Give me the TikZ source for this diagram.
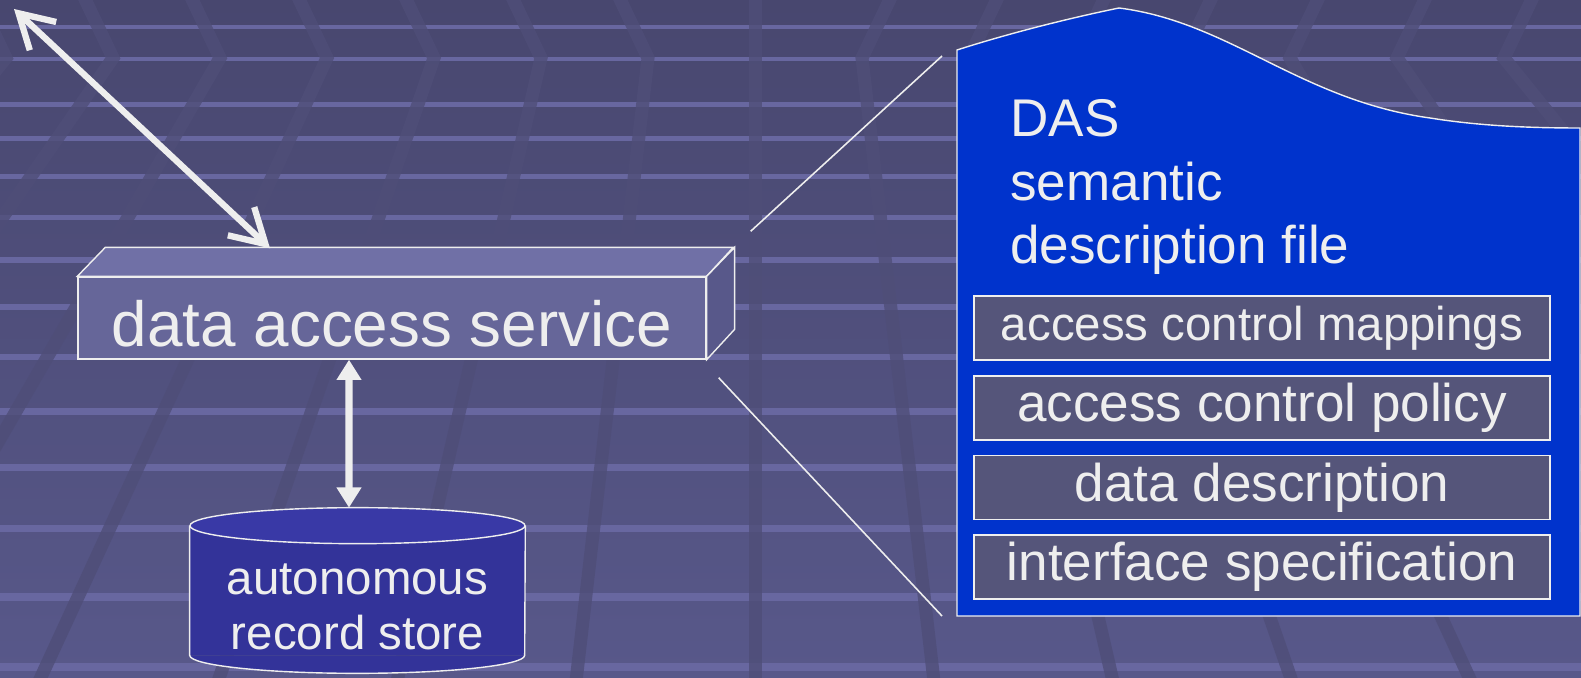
\documentclass[tikz,border=0pt]{standalone}
\usepackage{fontspec}
\setmainfont{Liberation Sans}
\usepackage{xcolor}
\usepackage{tikz}
\usetikzlibrary{arrows.meta}

\definecolor{bgtop}{HTML}{48476F}
\definecolor{bgbot}{HTML}{58588A}
\definecolor{stripe}{HTML}{6867A0}
\definecolor{band}{HTML}{4F4E78}
\definecolor{ink}{HTML}{EEEEEE}
\definecolor{dasfront}{HTML}{666699}
\definecolor{dastop}{HTML}{7070A6}
\definecolor{dasside}{HTML}{58588A}
\definecolor{storebody}{HTML}{333399}
\definecolor{storetop}{HTML}{3939A6}
\definecolor{fileblue}{HTML}{0033CC}
\definecolor{partfill}{HTML}{55557A}

\tikzset{
  outline/.style={draw=ink, line width=0.8pt},
  dasbox/.style={outline, fill=dasfront, minimum width=12.56cm, minimum height=1.64cm,
    inner sep=0pt, text=ink, text height=31.9pt, text depth=0pt, font=\fontsize{36.3}{40}\selectfont},
  storeshape/.style={fill=storebody, minimum width=6.7cm, minimum height=2.58cm, inner sep=0pt},
  storetext/.style={text=ink, inner sep=0pt, align=center, font=\fontsize{27}{31.3}\selectfont},
  titletext/.style={text=ink, inner sep=0pt, align=left, font=\fontsize{30.2}{36.1}\selectfont},
  partbox/.style={outline, fill=partfill, minimum width=11.52cm, minimum height=1.28cm,
    inner sep=0pt, text=ink, font=\fontsize{30.2}{36}\selectfont},
  zoomline/.style={draw=ink, line width=0.9pt},
  webarrow/.style={draw=ink, line width=3.6pt,
    {Straight Barb[length=19pt,width=22pt]}-{Straight Barb[length=19pt,width=22pt]}},
  storearrow/.style={draw=ink, line width=4pt,
    {Triangle[length=11.5pt,width=13.5pt]}-{Triangle[length=11.5pt,width=13.5pt]}},
  stripeline/.style={fill=stripe},
  bandline/.style={draw=band, opacity=0.8, line width=7.4pt},
}

\begin{document}
\begin{tikzpicture}[x=0.02cm, y=-0.02cm]
    % background
    \useasboundingbox (0,0) rectangle (1581,678);
    \shade[top color=bgtop, bottom color=bgbot] (0,0) rectangle (1581,678);
    \begin{scope}
        \clip (0,0) rectangle (1581,678);
        \foreach \y/\h in {27/4,59/4,105/5,139/5,177/5,218/5,260/6,307/6,357/6,412/7,467/7,528/7,597/8,667/8}
            \fill[stripeline] (0,\y-\h/2) rectangle (1581,\y+\h/2);
        \foreach \k in {-8,...,8}
            \draw[bandline] ({755+107*\k+30*sign(\k)},-5) -- ({755+107*\k},58) -- ({755+180*\k},690);
    \end{scope}

    % data access service
    \node[dasbox] (das) at (392,318) {data access service};
    \draw[outline, fill=dastop] (das.north west) -- ++(28,-29) -- ++(628,0) -- (das.north east) -- cycle;
    \draw[outline, fill=dasside] (das.north east) -- ++(28,-29) -- ++(0,82) -- (das.south east) -- cycle;

    % record store
    \node[storeshape] (store) at (357.5,590.5) {};
    \fill[storebody] (store.south west) arc[start angle=180, end angle=0, x radius=167.5, y radius=18];
    \draw[outline] (store.north west) -- (store.south west)
        arc[start angle=180, end angle=0, x radius=167.5, y radius=18] -- (store.north east);
    \draw[outline, fill=storetop] (store.north) ellipse[x radius=167.5, y radius=18];
    \node[storetext] (storelabel) at (357.5,607) {autonomous\\record store};

    \coordinate (webend) at (14,9);
    \draw[webarrow] (webend) -- ([xshift=-2.44cm,yshift=0.56cm]das.north);
    \draw[storearrow] ([xshift=-0.86cm]das.south) -- ([xshift=-0.17cm,yshift=0.36cm]store.north);

    % semantic description file
    \draw[outline, fill=fileblue] (957,616) -- (957,50)
        .. controls (1010,33) and (1070,18) .. (1119,8)
        .. controls (1230,22) and (1300,100) .. (1430,118)
        .. controls (1480,126) and (1530,128) .. (1580,128) -- (1580,616) -- cycle;
    \node[titletext, anchor=west] (filetitle) at (1010,187) {DAS\\semantic\\description file};

    \node[partbox, font=\fontsize{27}{32}\selectfont] (mappings) at (1262,328) {access control mappings};
    \node[partbox] (policy) at (1262,408) {access control policy};
    \node[partbox] (datadesc) at (1262,487.5) {data description};
    \node[partbox] (interface) at (1262,567) {interface specification};

    \coordinate (filetop) at (942,56);
    \coordinate (filebot) at (942,616);
    \draw[zoomline] ([xshift=0.88cm,yshift=0.9cm]das.north east) -- (filetop);
    \draw[zoomline] ([xshift=0.24cm,yshift=-0.36cm]das.south east) -- (filebot);
\end{tikzpicture}
\end{document}
